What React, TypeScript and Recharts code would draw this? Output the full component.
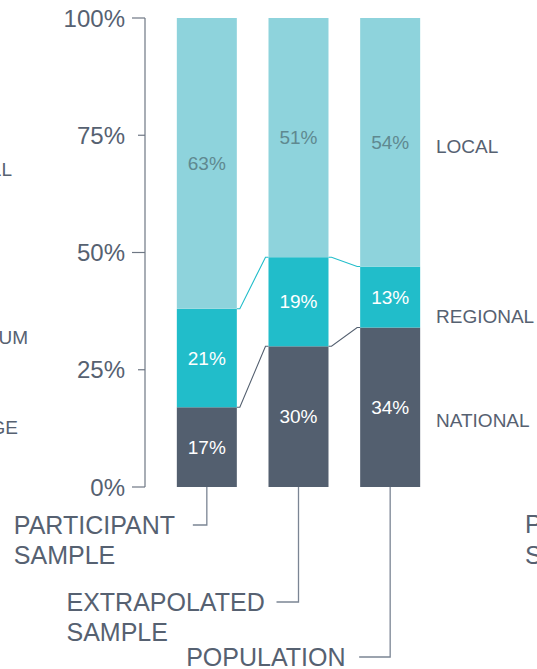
import React from "react";
import { Bar, BarChart, LabelList, XAxis, YAxis } from "recharts";

const categories = ["PARTICIPANT SAMPLE", "EXTRAPOLATED SAMPLE", "POPULATION"];
const national = [17, 30, 34];
const regional = [21, 19, 13];
const local = [63, 51, 54];
const seriesNames = ["NATIONAL", "REGIONAL", "LOCAL"];
const yTicks = [0, 25, 50, 75, 100];

const data = categories.map((name, i) => ({
  name,
  national: national[i],
  regional: regional[i],
  local: local[i]
}));

// right-hand series names sit beside the last bar's segments
const last = categories.length - 1;
const nameTicks = [
  national[last] / 2,
  national[last] + regional[last] / 2,
  national[last] + regional[last] + local[last] / 2
];

const FONT = "'Liberation Sans', Arial, sans-serif";
const TEXT = "#566171";
const AXIS = "#6e7784";
const COLORS = { local: "#8ed3dc", regional: "#21bdca", national: "#535f6f" };
const GAP = 0.1727;

// leader lines + text under each bar
const labelLayout = [
  { drop: 38, hook: 14, textX: -193 },
  { drop: 115, hook: 22, textX: -232 },
  { drop: 170, hook: 31, textX: -204 }
];
const nameDy = [13, 19, 7];

const YTick = (props: any) => {
  const { x, y, payload } = props;
  const long = payload.value % 50 === 0;
  return (
    <g>
      <line x1={x - (long ? 13 : 7)} x2={x} y1={y} y2={y} stroke={AXIS} strokeWidth={1.2} />
      <text x={x - 20} y={y} textAnchor="end" dominantBaseline="central" fontSize={24} fill={TEXT} fontFamily={FONT}>
        {payload.value}%
      </text>
    </g>
  );
};

const NameTick = (props: any) => {
  const { x, y, index } = props;
  return (
    <text x={x} y={y + nameDy[index]} dominantBaseline="central" fontSize={19} fill={TEXT} fontFamily={FONT}>
      {seriesNames[index]}
    </text>
  );
};

const XTick = (props: any) => {
  const { x, y, payload, index } = props;
  const l = labelLayout[index];
  const hy = y + l.drop;
  const lines = String(payload.value).split(" ");
  return (
    <g>
      <polyline
        points={`${x},${y} ${x},${hy} ${x - l.hook},${hy}`}
        fill="none"
        stroke="#7b8594"
        strokeWidth={1.3}
      />
      <text x={x + l.textX} y={hy + 8.5} fontSize={25} fill={TEXT} fontFamily={FONT}>
        {lines.map((t, i) => (
          <tspan key={i} x={x + l.textX} dy={i === 0 ? 0 : 30.5}>
            {t}
          </tspan>
        ))}
      </text>
    </g>
  );
};

const connectorShape = (key: "national" | "regional") => (props: any) => {
  const { x, y, width, height, index, fill } = props;
  const vals = key === "national" ? national : regional;
  const base = key === "national" ? 0 : national[index];
  const ppu = height / vals[index];
  const zeroY = y + height + base * ppu;
  let connector = null;
  if (index < categories.length - 1) {
    const topNext = key === "national" ? national[index + 1] : national[index + 1] + regional[index + 1];
    const nextY = zeroY - topNext * ppu;
    const step = width / (1 - 2 * GAP);
    const x1 = x + width;
    const x2 = x + step;
    connector = (
      <polyline
        points={`${x1},${y} ${x1 + 3},${y} ${x2 - 3},${nextY} ${x2},${nextY}`}
        fill="none"
        stroke={fill}
        strokeWidth={1.1}
      />
    );
  }
  return (
    <g>
      <rect x={x} y={y} width={width} height={height} fill={fill} />
      {connector}
    </g>
  );
};

const pctLabel = (color: string) => (p: any) => {
  const x = Number(p.x);
  const y = Number(p.y);
  const w = Number(p.width);
  const h = Number(p.height);
  return (
    <text
      x={x + w / 2}
      y={y + h / 2}
      textAnchor="middle"
      dominantBaseline="central"
      fontSize={19}
      fill={color}
      fontFamily={FONT}
    >
      {p.value}%
    </text>
  );
};

export default function App() {
  return (
    <div
      style={{
        position: "absolute",
        left: 0,
        top: 0,
        width: 537,
        height: 669,
        overflow: "hidden",
        background: "#fff"
      }}
    >
      <BarChart
        width={537}
        height={669}
        data={data}
        margin={{ top: 18, right: 0, bottom: 0, left: 0 }}
        barCategoryGap={`${GAP * 100}%`}
      >
        <XAxis
          dataKey="name"
          height={182}
          axisLine={false}
          tickLine={false}
          tickSize={0}
          tickMargin={0}
          interval={0}
          padding={{ left: 16, right: 0 }}
          tick={<XTick />}
        />
        <YAxis
          width={145}
          domain={[0, 100]}
          allowDataOverflow
          ticks={yTicks}
          interval={0}
          tickSize={0}
          tickMargin={0}
          tickLine={false}
          axisLine={{ stroke: AXIS, strokeWidth: 1.2 }}
          tick={<YTick />}
        />
        <YAxis
          yAxisId="names"
          orientation="right"
          type="number"
          width={101}
          domain={[0, 100]}
          allowDataOverflow
          ticks={nameTicks}
          interval={0}
          tickSize={0}
          tickMargin={0}
          tickLine={false}
          axisLine={false}
          tick={<NameTick />}
        />
        <Bar dataKey="national" stackId="a" fill={COLORS.national} shape={connectorShape("national")} isAnimationActive={false}>
          <LabelList dataKey="national" content={pctLabel("#ffffff")} />
        </Bar>
        <Bar dataKey="regional" stackId="a" fill={COLORS.regional} shape={connectorShape("regional")} isAnimationActive={false}>
          <LabelList dataKey="regional" content={pctLabel("#ffffff")} />
        </Bar>
        <Bar dataKey="local" stackId="a" fill={COLORS.local} isAnimationActive={false}>
          <LabelList dataKey="local" content={pctLabel("#5f8990")} />
        </Bar>
      </BarChart>
      {/* edges of the neighbouring charts, cropped in the original */}
      <svg
        width={537}
        height={669}
        style={{ position: "absolute", left: 0, top: 0, pointerEvents: "none" }}
        fontFamily={FONT}
      >
        <text x={12} y={169} textAnchor="end" dominantBaseline="central" fontSize={19} fill={TEXT}>SMALL</text>
        <text x={28} y={337} textAnchor="end" dominantBaseline="central" fontSize={19} fill={TEXT}>MEDIUM</text>
        <text x={18} y={427} textAnchor="end" dominantBaseline="central" fontSize={19} fill={TEXT}>LARGE</text>
        <text x={525} y={533} fontSize={25} fill={TEXT}>PARTICIPANT</text>
        <text x={525} y={564} fontSize={25} fill={TEXT}>SAMPLE</text>
      </svg>
    </div>
  );
}
